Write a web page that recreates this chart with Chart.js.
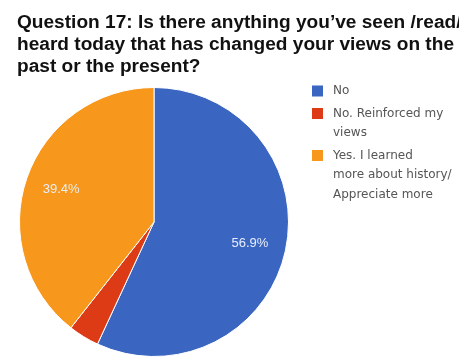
<!DOCTYPE html>
<html>
<head>
<meta charset="utf-8">
<script src="https://cdn.jsdelivr.net/npm/chart.js@4"></script>
<style>
  html, body { margin: 0; padding: 0; background: #fff; }
  #wrap { width: 459px; height: 361px; position: relative; }
</style>
</head>
<body>
<div id="wrap"><canvas id="pieChart" width="459" height="361"></canvas></div>
<script>
// ==============================
// DATA
// ==============================
const titleLines = [
  'Question 17: Is there anything you\u2019ve seen /read/',
  'heard today that has changed your views on the',
  'past or the present?'
];
const categories = ['No', 'No. Reinforced my views', 'Yes. I learned more about history/ Appreciate more'];
const legendLines = [
  ['No'],
  ['No. Reinforced my', 'views'],
  ['Yes. I learned', 'more about history/', 'Appreciate more']
];
const percentages = [56.9, 3.7, 39.4];
const sliceColors = ['#3a66c2', '#dc3b16', '#f7971c'];

// ==============================
// TITLE + LEGEND + LABELS
// ==============================
const extras = {
  id: 'extras',
  afterDraw(chart) {
    const ctx = chart.ctx;
    ctx.save();

    // title (stretched a bit to match the wide bold face of the original)
    ctx.fillStyle = '#111';
    ctx.font = 'bold 18px "Liberation Sans", Arial, sans-serif';
    ctx.textBaseline = 'alphabetic';
    ctx.textAlign = 'left';
    const sx = 437 / ctx.measureText(titleLines[1]).width;
    titleLines.forEach((t, i) => {
      ctx.save();
      ctx.translate(17, 28 + i * 22);
      ctx.scale(sx, 1);
      ctx.fillText(t, 0, 0);
      ctx.restore();
    });

    // percent labels inside slices
    const meta = chart.getDatasetMeta(0);
    ctx.font = '13px "Liberation Sans", Arial, sans-serif';
    ctx.fillStyle = '#e8eef8';
    ctx.textAlign = 'center';
    ctx.textBaseline = 'middle';
    meta.data.forEach((arc, i) => {
      if (percentages[i] < 5) return;
      const p = arc.getProps(['x', 'y', 'startAngle', 'endAngle', 'outerRadius'], true);
      const mid = (p.startAngle + p.endAngle) / 2;
      const r = p.outerRadius * 0.73;
      ctx.fillText(percentages[i].toFixed(1) + '%', p.x + Math.cos(mid) * r, p.y + Math.sin(mid) * r);
    });

    // legend
    ctx.font = '12px "DejaVu Sans", Verdana, sans-serif';
    ctx.textAlign = 'left';
    let y = 91;
    legendLines.forEach((lines, i) => {
      ctx.fillStyle = sliceColors[i];
      ctx.fillRect(312, y - 5.5, 11, 11);
      ctx.fillStyle = '#555';
      lines.forEach((l, j) => ctx.fillText(l, 333, y + j * 19.5));
      y += lines.length * 19.5 + 3;
    });

    ctx.restore();
  }
};

const pie = new Chart(document.getElementById('pieChart'), {
  type: 'pie',
  data: {
    labels: categories,
    datasets: [{
      data: percentages,
      backgroundColor: sliceColors,
      borderColor: '#fff',
      borderWidth: 1
    }]
  },
  options: {
    responsive: false,
    animation: false,
    layout: { padding: { left: 19, right: 170, top: 87, bottom: 4 } },
    plugins: {
      legend: { display: false },
      title: { display: false },
      tooltip: { enabled: false }
    }
  },
  plugins: [extras]
});
</script>
</body>
</html>
